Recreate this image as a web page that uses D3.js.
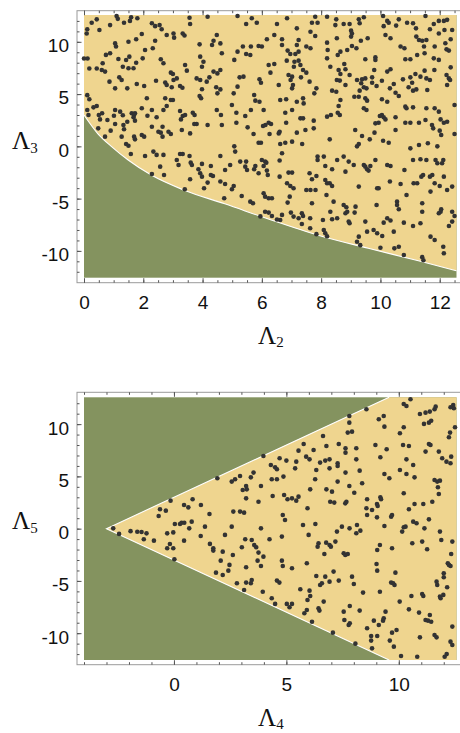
<!DOCTYPE html>
<html>
<head>
<meta charset="utf-8">
<script src="https://cdn.jsdelivr.net/npm/d3@7"></script>
<style>
  body { margin: 0; background: #fff; }
  .tick text { font-family: "Liberation Sans", Arial, sans-serif; font-size: 19px; fill: #111; }
  .lab { font-family: "Liberation Serif", "Times New Roman", serif; fill: #111; }
</style>
</head>
<body>
<svg id="chart" width="460" height="733"></svg>
<script>
const LIM = 4 * Math.PI;

// boundary of the allowed region, upper panel
const curveX = [0, 0.47, 0.92, 1.49, 2.27, 3.38, 4.75, 6.22, 7.9, 9.59, 11.28, LIM];
const curveY = [3.0, 1.2, 0.0, -1.3, -2.75, -4.2, -5.5, -6.95, -8.5, -9.75, -10.95, -11.9];

// wedge of the lower panel
const wedgeX = [-3, 9.57, LIM, LIM, 9.57];
const wedgeY = [0, LIM, LIM, -LIM, -LIM];

const ticksX1 = [0, 2, 4, 6, 8, 10, 12];
const ticksX2 = [0, 5, 10];
const ticksY = [-10, -5, 0, 5, 10];

// sample points, upper panel (Λ2, Λ3)
const pts1 = [
[0.11,11.2],[0.09,10.8],[0.26,11.83],[0.43,12.15],[0.52,11.13],[0.88,11.6],[1.1,12.47],[1.14,12.2],[1.35,11.83],[1.55,12.0],[1.59,12.35],[1.8,12.25],[2.29,11.77],[2.4,11.5],[2.55,11.6],[2.62,11.2],[2.79,10.65],[3.02,10.8],[3.04,10.4],[3.33,10.8],[3.39,10.6],[3.56,12.3],[3.58,11.7],[4.17,12.4],[4.48,10.65],[4.37,10.1],[4.32,9.7],[4.6,9.85],
[0,8.4],[0.12,8.4],[0.18,7.45],[0.43,7.45],[0.6,7.3],[0.71,7.15],[0.63,7.95],[0.74,8.75],[0.88,8.9],[1.05,9.85],[1.08,9.55],[1.16,8.35],[1.5,10.0],[1.76,10.25],[1.95,10.75],[2.4,10.1],[2.32,9.38],[2.06,9.22],[1.53,8.58],[1.42,8.26],[1.31,7.62],[1.5,7.47],[1.67,7.47],[1.76,8.0],[1.98,8.42],[2.59,8.33],[2.68,7.95],[2.93,7.05],[3.0,6.92],[3.02,6.35],[3.13,6.5],[3.41,7.78],[3.47,7.24],[3.9,9.76],[3.92,8.58],[4.03,8.1],[3.98,7.62],[4.37,7.15],[4.5,6.98],[4.6,7.3],[4.65,8.9],
[0.86,6.19],[1.05,5.55],[1.19,6.6],[1.27,6.35],[1.46,5.55],[1.78,5.97],[2.03,5.77],[2.12,4.6],[2.43,6.28],[2.74,6.1],[2.79,5.87],[2.96,5.65],[2.74,4.6],[3.0,4.43],[3.24,5.77],[3.32,5.6],[3.8,6.5],[3.92,6.35],[3.98,5.46],[4.14,6.19],[4.23,6.6],[4.46,5.65],[4.6,5.45],[4.5,5.07],[3.9,4.82],[3.95,4.6],
[0.11,4.9],[0.18,4.5],[0.32,3.73],[0.43,3.86],[0.11,3.48],[0.15,3.0],[0.5,3.0],[0.61,3.16],[0.54,2.58],[0.79,2.52],[1.05,3.48],[1.01,2.93],[1.22,3.32],[1.31,2.97],[1.61,3.16],[1.69,3.0],[1.72,3.16],[1.67,2.78],[1.46,2.36],[1.72,2.46],[1.95,3.64],[2.14,2.93],[2.29,3.48],[2.45,2.78],[2.68,3.48],[2.79,3.86],[2.93,4.43],[3.24,3.38],[3.33,2.9],[3.27,2.58],[3.41,3.0],[3.67,3.22],[3.73,3.0],[3.8,2.14],[4.17,2.04],[4.48,3.48],[4.62,3.0],[4.65,2.04],
[0.48,1.72],[0.71,0.93],[0.9,1.5],[1.05,2.14],[1.33,2.04],[1.35,1.63],[1.27,0.93],[1.42,0.22],[1.5,0.06],[1.69,0.93],[1.72,0.67],[1.95,1.08],[2.03,0.93],[2.29,1.88],[2.51,1.4],[2.65,1.88],[2.59,1.31],[2.65,0.93],[2.85,1.4],[2.93,1.18],[3.3,1.56],[3.58,1.24],[3.72,2.14],
[5.18,12.47],[5.47,11.7],[5.66,12.25],[5.83,11.83],[6.51,11.7],[6.85,12.25],[7.18,11.29],[7.69,11.83],[7.8,12.4],[7.88,11.83],[8.2,12.4],[8.48,11.6],[8.51,12.15],[8.76,11.7],[8.96,11.7],[9.27,12.15],[9.3,11.77],[9.44,12.35],[10.09,12.47],[10.23,12.0],[10.11,11.5],[10.28,11.83],[10.53,11.55],[10.62,12.15],[10.9,11.83],[11.1,11.77],[11.2,11.29],[11.52,12.47],[11.67,11.2],[11.8,11.7],[11.97,12.0],[12.14,12.0],[12.25,12.1],[11.97,10.8],[12.16,11.13],[12.42,11.13],
[5.07,8.27],[5.18,9.06],[5.36,9.55],[5.47,8.84],[5.61,8.74],[5.63,9.55],[5.89,9.6],[6.0,9.55],[6.17,10.24],[6.42,10.65],[6.68,10.24],[6.68,9.7],[6.87,9.16],[6.96,8.84],[7.13,8.84],[7.24,9.06],[7.18,9.7],[7.24,10.18],[7.5,9.55],[7.64,9.38],[7.64,10.97],[7.8,10.56],[8.2,9.92],[8.22,9.22],[8.53,10.34],[8.56,8.74],[8.65,9.06],[8.88,9.22],[9.01,11.07],[9.04,10.8],[9.01,10.5],[9.04,9.6],[9.19,9.38],[9.34,10.1],[9.57,10.34],[9.49,8.33],[9.83,8.52],[10.17,10.65],[10.34,10.34],[10.68,9.55],[10.81,9.38],[10.84,8.33],[11.01,8.33],[11.21,10.5],[11.3,10.18],[11.41,10.1],[11.55,10.18],[11.47,9.55],[11.24,8.74],[11.49,8.9],[11.83,9.55],[11.8,8.42],[11.97,8.27],[12.19,9.86],[12.23,9.28],[12.31,9.16],[12.37,10.24],
[5.25,6.6],[5.38,6.67],[5.18,5.71],[5.05,5.07],[5.92,6.41],[5.97,6.09],[5.74,4.91],[5.78,4.37],[5.92,4.27],[6.23,7.78],[6.42,7.88],[6.29,7.05],[6.57,5.87],[6.84,8.2],[7.08,7.62],[7.1,8.1],[7.24,8.2],[7.3,7.78],[7.39,7.3],[7.5,7.05],[7.32,6.6],[7.02,6.67],[6.97,6.35],[6.9,6.83],[7.05,5.87],[7.02,5.55],[7.61,6.19],[7.84,5.55],[7.77,5.07],[7.39,4.59],[7.41,4.11],[6.62,4.43],[6.82,4.5],[7.18,4.27],[8.2,8.42],[8.31,7.62],[8.59,7.3],[8.65,6.92],[8.82,7.37],[8.78,7.88],[8.53,6.35],[8.63,6.29],[8.82,5.87],[8.96,6.83],[8.37,5.33],[8.51,5.23],[8.65,4.43],[8.59,3.86],[9.21,6.35],[9.38,6.41],[9.49,6.5],[9.35,6.03],[9.44,5.65],[9.53,5.55],[9.3,5.33],[9.12,4.75],[9.27,4.75],[9.49,4.59],[9.55,4.37],[9.72,6.6],[9.79,7.3],[9.83,8.27],[9.72,6.09],[9.87,5.77],[10.05,6.28],[10.23,7.15],[10.34,7.37],[10.45,5.97],[10.32,5.55],[10.51,5.13],[10.62,4.82],[10.05,4.5],[10.23,4.27],[10.76,6.41],[11.01,6.6],[11.07,6.09],[10.95,5.65],[11.1,5.33],[11.21,5.45],[11.18,6.92],[11.35,6.67],[11.49,7.24],[11.55,6.5],[11.67,6.35],[11.58,5.39],[11.82,7.3],[12.23,6.83],[12.31,6.5],[12.35,6.35],[12.25,5.87],[12.37,7.56],[12.5,3.96],
[4.99,3.96],[5.14,3.22],[5.44,2.9],[5.14,2.26],[5.63,3.48],[6.06,3.48],[6.12,2.04],[6.23,2.26],[6.04,1.95],[6.31,2.14],[5.52,1.82],[5.72,1.18],[6.26,1.18],[6.57,1.24],[6.6,1.4],[5.89,0.35],[5.97,0.35],[5.07,0],[6.79,3.22],[7.02,3.48],[6.82,2.26],[7.3,2.68],[7.39,2.68],[7.18,1.31],[7.47,1.56],[7.75,1.72],[7.75,2.46],[8.2,2.84],[8.33,3.0],[8.56,3.22],[8.63,3.0],[8.29,0.67],[6.62,0.22],[6.79,0.35],[7.02,0.45],[7.36,0.22],[9.15,1.56],[9.38,0.99],[9.44,3.64],[9.53,3.48],[9.27,0.22],[9.21,0],[9.64,0.67],[9.8,1.31],[9.83,2.2],[9.94,2.26],[9.98,2.9],[10.05,3.0],[10.11,2.78],[10.17,2.58],[10.09,0.54],[10.28,0.35],[10.51,2.78],[10.51,1.56],[10.84,3.8],[10.88,3.64],[11.1,3.73],[10.84,2.26],[11.01,2.26],[11.3,2.26],[11.52,2.52],[11.55,3.64],[11.83,3.64],[11.97,3.32],[12.03,2.58],[12.14,2.26],[12.25,2.36],[11.74,2.04],[11.78,1.72],[12.0,1.5],[12.05,1.08],[12.5,1.18],[11.3,0.13],[11.6,0.29],[11.92,0],[11.01,-0.19],
[1.58,-0.73],[2.06,-0.92],[2.34,-0.5],[2.45,-0.82],[2.68,-0.82],[2.57,-1.94],[2.29,-2.64],[2.7,-2.74],[3.13,-1.3],[3.19,-1.78],[3.24,-0.73],[3.33,-0.73],[3.56,-0.92],[3.6,-1.56],[3.64,-1.78],[3.58,-3.15],[3.4,-4.1],[3.98,-1.68],[3.86,-2.19],[3.92,-2.58],[3.98,-2.9],[4.05,-4.01],[4.17,-3.47],[4.28,-1.88],[4.28,-2.74],[4.35,-2.83],[4.6,-0.92],[4.6,-3.37],[4.76,-2.26],[4.73,-4.97],[4.93,-1.78],[4.76,-3.6],
[5.1,-0.5],[5.27,-1.46],[5.47,-1.46],[5.44,-1.94],[5.5,-2.26],[5.78,-1.88],[5.74,-2.19],[5.89,-2.58],[6.0,-1.3],[6.11,-1.46],[6.15,-1.56],[6.17,-2.32],[6.2,-2.74],[6.06,-1.88],[6.6,-1.36],[6.68,-0.66],[6.6,-2.9],[6.9,-2.51],[7.02,-2.51],[6.85,-3.53],[6.96,-3.79],[7.07,-4.01],[5.05,-3.79],[4.99,-4.11],[5.32,-4.75],[5.61,-5.29],[5.7,-5.45],[6.06,-4.49],[6.11,-4.81],[6.23,-4.97],[6.34,-4.97],[6.11,-6.25],[6.23,-6.34],[6.34,-6.66],[5.95,-6.7],[6.51,-7.0],[6.68,-6.56],[6.62,-7.04],[6.87,-5.38],[6.94,-4.81],[6.98,-6.34],[7.07,-6.72],[7.24,-6.88],[7.35,-6.4],[7.39,-6.66],[7.35,-7.43],[7.63,-6.88],[7.63,-7.84],[7.5,-4.17],[7.64,-4.17],[7.81,-4.17],[7.61,-2.58],[7.69,-3.15],[7.84,-2.83],[7.69,-5.45],[7.88,-0.98],[7.88,-1.3],[8.09,-0.98],[8.14,-1.88],[8.14,-3.22],[8.2,-3.53],[8.29,-3.53],[8.37,-3.79],[8.18,-4.65],[8.42,-5.29],[8.31,-6.25],[8.06,-7.04],[8.37,-6.98],[8.54,-6.88],[8.09,-8.0],[8.14,-8.32],[8.2,-8.6],[7.84,-8.4],[8.37,-2.19],[8.54,-1.3],[8.76,-0.98],[8.93,-1.46],[9.1,-1.78],[8.82,-2.42],[8.76,-5.61],[8.85,-5.83],[8.88,-6.25],[8.82,-6.4],[8.93,-7.2],[8.96,-7.36],[9.13,-6.34],[9.16,-5.77],[9.27,-3.85],[9.44,-1.78],[9.49,-1.94],[9.55,-2.19],[9.6,-2.32],[9.66,-1.88],[9.83,-1.3],[9.89,-4.01],[9.94,-4.01],[9.87,-5.61],[9.49,-7.2],[9.55,-8.16],[9.77,-8.0],[9.89,-8.32],[10.06,-8.57],[10.0,-9.7],[9.27,-8.64],[9.21,-9.12],[9.32,-9.45],[10.11,-7.3],[10.23,-6.88],[10.34,-7.1],[10.45,-8.16],[10.32,-3.37],[10.34,-1.88],[10.56,-5.29],[10.56,-5.61],[10.62,-6.02],[10.79,-7.3],[10.68,-3.6],[10.81,-2.26],[10.88,-4.65],[11.1,-7.62],[11.12,-3.53],[11.24,-3.53],[11.38,-2.9],[11.44,-2.74],[11.67,-2.9],[11.75,-2.74],[11.83,-3.53],[11.69,-4.33],[12.0,-3.79],[12.25,-4.17],[12.08,-1.62],[12.12,-1.3],[12.14,-2.9],[11.41,-5.45],[11.41,-6.25],[11.35,-7.36],[11.69,-8.64],[11.83,-8.96],[12.03,-6.25],[11.97,-6.4],[12.05,-6.02],[12.42,-6.25],[12.5,-6.66],[12.42,-7.2],[12.31,-7.62],[12.12,-9.6],[12.14,-10.23],[11.41,-10.6],[11.45,-10.9],[10.79,-10.4],[10.62,-9.6],[10.47,-9.76],[12.42,-3.85],[11.55,-1.3],[11.35,-1.24],[10.23,-1.78],[11.1,-1.3],[11.86,-1.3],[11.92,-1.62]
];

// sample points, lower panel (Λ4, Λ5)
const pts2 = [
[1.93,4.82],[-0.15,2.68],[0.83,2.81],[-0.62,1.85],[-0.36,1.72],[-0.68,1.21],[0.45,2.26],[0.64,2.04],[1.2,2.26],[1.58,1.4],[0.04,0.45],[0.27,0.45],[0.34,0.57],[0.46,0.57],[0.79,0.67],[1.38,0.19],[-2.7,0.03],[0.68,0.03],
[-2.44,-0.5],[-1.93,-0.24],[-1.63,-0.29],[-1.44,-0.32],[-1.22,-0.45],[-1.34,-1.02],[-0.89,-1.15],[-0.3,-0.45],[-0.03,-0.36],[-0.18,-1.47],[-0.3,-1.88],[-0.03,-1.88],[0.02,-2.93],[0.45,-1.15],[1.19,-0.7],[1.6,-1.46],[1.75,-1.88],[1.75,-2.1],[2.17,-2.2],[2.08,-3.06],[1.87,-4.21],[2.17,-4.43],[2.42,-4.02],[2.47,-3.47],[2.27,-0.6],
[3.98,6.95],[4.31,6.09],[4.5,5.87],[4.58,5.68],[4.7,6.73],[5.0,6.51],[4.87,4.98],[4.35,4.72],[4.58,4.72],[5.39,5.77],[5.44,6.41],[5.54,7.46],[5.77,8.1],[5.88,6.89],[6.03,6.63],[6.21,7.53],[6.33,5.61],[6.28,4.72],[6.06,3.76],[6.5,6.32],[6.73,6.51],[6.92,6.63],[6.92,5.77],[6.78,7.91],[6.63,8.87],[7.28,6.25],[7.28,6.0],[7.33,8.1],[7.63,7.69],[7.63,7.27],[7.63,5.36],[7.28,4.5],[6.78,3.76],[7.03,3.54],[7.8,10.78],[7.8,10.14],[7.73,9.19],[7.92,9.28],[8.11,7.69],[8.11,6.63],[8.26,5.55],[7.8,4.08],[8.37,4.34],[8.02,3.44],[8.56,11.42],[8.96,8.0],[9.11,10.46],[9.33,10.78],[9.36,9.76],[9.18,6.83],[9.46,7.59],[9.36,5.23],[9.58,4.82],[10.05,9.12],[10.22,9.7],[10.19,8.0],[10.45,7.91],[10.34,6.63],[10.64,6.09],[10.05,5.61],[10.34,5.23],[10.7,4.91],[10.22,11.93],[10.34,11.74],[10.52,12.38],[10.94,10.97],[11.19,11.1],[11.38,11.2],[11.59,11.42],[11.64,11.67],[11.12,10.02],[11.34,10.14],[11.44,10.33],[11.34,8.1],[11.41,8.0],[11.19,7.37],[11.78,7.37],[11.93,6.73],[12.12,6.41],[12.3,6.25],[12.33,6.89],[12.23,8.74],[12.28,9.19],[12.5,9.7],[12.42,11.83],[12.45,11.52],[12.3,11.61],[11.59,4.66],[11.71,4.5],[11.83,4.59],[11.74,3.96],[11.78,3.32],[11.49,2.58],[11.09,2.36],[10.7,2.36],[10.22,3.38],[10.45,1.85],[10.64,0.67],[10.79,0.51],[11.34,0.89],[11.14,0.03],[10.22,0.13],[10.3,0.19],[9.36,0.26],[9.66,1.15],[9.7,1.31],[9.18,3.0],[9.21,2.81],[9.03,2.36],[9.06,2.17],[8.59,2.81],[8.56,1.95],[8.81,1.79],[8.59,1.31],[9.03,1.08],[8.14,0.35],[7.81,0.03],[7.47,0.19],[7.62,2.42],[7.67,2.58],[7.13,2.49],[6.95,2.58],[5.94,1.95],[5.54,3.06],[5.44,2.68],[5.25,2.9],[5.05,2.81],[4.9,3.22],[4.39,3.13],[3.76,2.58],[3.87,4.08],[3.21,4.08],[3.24,3.76],[3.21,2.9],[3.06,3.7],[3.42,4.91],[3.54,5.36],[2.94,5.04],[2.72,4.72],[2.57,4.5],[2.64,1.63],[2.94,1.63],[3.12,1.53],[2.57,0.19],[3.87,0.03],[4.84,1.31],[4.94,0.83],[5.74,0.35],[6.29,0.45],
[2.62,-2.52],[2.8,-5.23],[3.02,-1.78],[3.17,-1.02],[3.21,-3.7],[3.21,-5.16],[3.12,-5.87],[3.46,-1.08],[3.57,-1.56],[3.66,-1.78],[3.76,-2.29],[3.72,-3.06],[3.87,-3.57],[3.98,-2.68],[3.46,-4.91],[3.42,-5.23],[3.95,-6.03],[4.25,-1.02],[4.35,-6.66],[4.5,-7.2],[4.58,-4.97],[4.69,-5.16],[4.8,-0.76],[4.8,-3.06],[4.84,-3.57],[5.02,-7.2],[5.14,-7.52],[5.25,-7.2],[5.25,-3.79],[5.62,-5.8],[5.8,-8.1],[5.91,-7.78],[5.91,-3.31],[5.99,-0.6],[5.94,-6.82],[6.03,-5.93],[6.06,-6.44],[6.14,-8.9],[6.33,-4.53],[6.39,-1.72],[6.43,-1.4],[6.43,-7.62],[6.47,-7.84],[6.5,-5.39],[6.58,-5.23],[6.66,-6.98],[6.69,-2.42],[6.77,-1.34],[6.92,-1.56],[6.98,-1.72],[6.92,-5.07],[6.73,-4.59],[7.1,-4.11],[7.07,-9.95],[7.18,-1.24],[7.25,-0.28],[7.33,-4.97],[7.55,-2.36],[7.62,-2.52],[7.73,-2.42],[7.55,-7.94],[7.58,-8.74],[7.77,-9.22],[7.82,-7.4],[7.82,-9.06],[7.92,-4.59],[8.0,-5.29],[8.11,-0.44],[8.07,-11.0],[8.26,-7.84],[8.29,-0.19],[8.41,-6.12],[8.59,-9.53],[8.77,-10.27],[8.77,-10.71],[8.81,-11.45],[9.01,-3.38],[9.04,-4.02],[9.04,-2.04],[9.16,-1.56],[9.04,-10.27],[9.16,-6.03],[8.89,-8.8],[9.11,-9.22],[9.3,-8.8],[9.33,-8.58],[9.41,-7.94],[9.66,-5.16],[9.75,-5.23],[9.81,-5.39],[9.85,-4.21],[9.7,-9.95],[9.9,-9.69],[9.6,-10.71],[9.78,-11.29],[10.04,-6.98],[10.1,-12.18],[10.15,-0.28],[10.45,-7.72],[10.56,-6.44],[10.6,-1.4],[10.82,-12.25],[10.9,-8.03],[10.94,-10.4],[11.04,-6.25],[11.09,-6.44],[11.19,-8.74],[11.3,-8.8],[11.38,-8.26],[11.44,-8.9],[11.59,-10.17],[11.68,-10.4],[11.68,-5.07],[11.71,-5.39],[11.83,-6.5],[11.86,-6.66],[11.98,-6.34],[12.0,-4.27],[12.0,-4.65],[12.15,-5.61],[12.18,-3.31],[12.23,-3.47],[12.3,-3.57],[12.33,-2.42],[12.38,-1.24],[12.38,-9.37],[12.3,-10.81],[12.38,-11.13],[12.04,-12.25],[12.13,-12.0],[11.04,-1.24],[11.26,-1.97],[11.83,-0.28],[11.89,-1.08],[9.7,-1.88]
];

const GREEN = "#84935f", YELLOW = "#efd58f", DOT = "#333";

const svg = d3.select("#chart");

const panels = [
  { xd: [0, LIM], frame: [77, 10.7, 463.5, 282.7], plot: [84, 15, 456.5, 277.7],
    major: ticksX1, minorStep: 0.5, xlab: "2", ylab: "3", labY: 149, type: "curve" },
  { xd: [-4, LIM], frame: [77, 392.3, 463.5, 664.7], plot: [84, 397.3, 456.5, 660],
    major: ticksX2, minorStep: 1, xlab: "4", ylab: "5", labY: 529, type: "wedge" }
];

panels.forEach(p => {
  const g = svg.append("g");
  const x = d3.scaleLinear().domain(p.xd).range([p.plot[0], p.plot[2]]);
  const y = d3.scaleLinear().domain([-LIM, LIM]).range([p.plot[3], p.plot[1]]);

  g.append("rect")
    .attr("x", x(p.xd[0])).attr("y", y(LIM))
    .attr("width", x(p.xd[1]) - x(p.xd[0])).attr("height", y(-LIM) - y(LIM))
    .attr("fill", GREEN);

  let dots;
  if (p.type === "curve") {
    const pts = curveX.map((v, i) => [v, curveY[i]]);
    g.append("path").datum(pts)
      .attr("fill", YELLOW)
      .attr("d", d3.area().x(d => x(d[0])).y0(y(LIM)).y1(d => y(d[1])).curve(d3.curveMonotoneX));
    g.append("path").datum(pts)
      .attr("fill", "none").attr("stroke", "#fff").attr("stroke-width", 1.1)
      .attr("d", d3.line().x(d => x(d[0])).y(d => y(d[1])).curve(d3.curveMonotoneX));
    dots = pts1;
  } else {
    const pts = wedgeX.map((v, i) => [v, wedgeY[i]]);
    g.append("path").datum(pts)
      .attr("fill", YELLOW)
      .attr("d", d3.line().x(d => x(d[0])).y(d => y(d[1])).curve(d3.curveLinearClosed));
    g.append("path").datum([pts[1], pts[0], pts[4]])
      .attr("fill", "none").attr("stroke", "#fff").attr("stroke-width", 1.1)
      .attr("d", d3.line().x(d => x(d[0])).y(d => y(d[1])));
    dots = pts2;
  }

  g.selectAll("circle.pt").data(dots).join("circle")
    .attr("class", "pt")
    .attr("cx", d => x(d[0])).attr("cy", d => y(d[1]))
    .attr("r", 2.3).attr("fill", DOT);

  // frame
  const [fx0, fy0, fx1, fy1] = p.frame;
  g.append("rect").attr("x", fx0).attr("y", fy0)
    .attr("width", fx1 - fx0).attr("height", fy1 - fy0)
    .attr("fill", "none").attr("stroke", "#9a9a9a").attr("stroke-width", 1);

  const minorX = d3.range(Math.ceil(p.xd[0]), LIM, p.minorStep);
  const minorY = d3.range(-12, 13, 1);

  const addAxis = (axis, tr) => {
    const a = g.append("g").attr("transform", tr).call(axis);
    a.select(".domain").remove();
    a.selectAll(".tick line").attr("stroke", "#555");
    return a;
  };

  // bottom
  addAxis(d3.axisBottom(x).tickValues(minorX).tickSize(-2.5).tickFormat(""), `translate(0,${fy1})`);
  const bx = addAxis(d3.axisBottom(x).tickValues(p.major).tickSize(-4.5).tickPadding(13).tickFormat(d => String(d)), `translate(0,${fy1})`);
  bx.selectAll("text").attr("dy", "0.71em");
  // top
  addAxis(d3.axisTop(x).tickValues(minorX).tickSize(-2.5).tickFormat(""), `translate(0,${fy0})`);
  addAxis(d3.axisTop(x).tickValues(p.major).tickSize(-4.5).tickFormat(""), `translate(0,${fy0})`);
  // left
  addAxis(d3.axisLeft(y).tickValues(minorY).tickSize(-2.5).tickFormat(""), `translate(${fx0},0)`);
  const ly = addAxis(d3.axisLeft(y).tickValues(ticksY).tickSize(-4.5).tickPadding(8).tickFormat(d => String(d)), `translate(${fx0},0)`);
  ly.selectAll("text").attr("dy", "0.52em");

  // axis titles
  const tx = svg.append("text").attr("class", "lab")
    .attr("x", 258).attr("y", fy1 + 61).attr("font-size", 25);
  tx.append("tspan").text("Λ");
  tx.append("tspan").attr("font-size", 15).attr("dy", 3.5).text(p.xlab);

  const ty = svg.append("text").attr("class", "lab")
    .attr("x", 12).attr("y", p.labY).attr("font-size", 25);
  ty.append("tspan").text("Λ");
  ty.append("tspan").attr("font-size", 15).attr("dy", 3.5).text(p.ylab);
});
</script>
</body>
</html>
